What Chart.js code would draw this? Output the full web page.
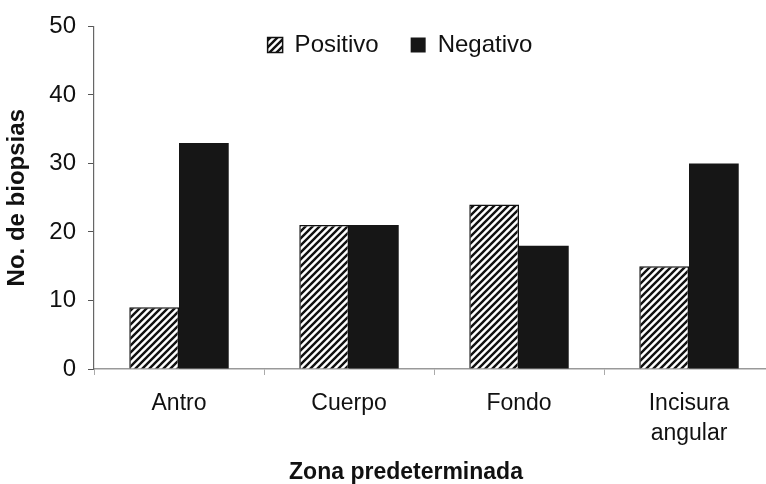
<!DOCTYPE html>
<html>
<head>
<meta charset="utf-8">
<script src="https://cdn.jsdelivr.net/npm/chart.js@4/dist/chart.umd.min.js"></script>
<style>
  html, body { margin: 0; padding: 0; background: #fff; overflow: hidden; }
  .chart-container { position: relative; width: 812px; height: 484px; }
</style>
</head>
<body>
<div class="chart-container">
  <canvas id="chart"></canvas>
</div>
<script>
const categories = ['Antro', 'Cuerpo', 'Fondo', ['Incisura', 'angular']]
const positivo = [9, 21, 24, 15]
const negativo = [33, 21, 18, 30]
const yMin = 0
const yMax = 50
const yStep = 10

const FONT = "'Liberation Sans', Arial, sans-serif"

// diagonal hatch for the "Positivo" bars
function makeHatch(ctx) {
  const size = 7
  const tile = document.createElement('canvas')
  tile.width = size
  tile.height = size
  const t = tile.getContext('2d')
  t.fillStyle = '#fff'
  t.fillRect(0, 0, size, size)
  t.strokeStyle = '#111'
  t.lineWidth = 2.4
  t.beginPath()
  t.moveTo(-1, size + 1); t.lineTo(size + 1, -1)
  t.moveTo(-1, 1); t.lineTo(1, -1)
  t.moveTo(size - 1, size + 1); t.lineTo(size + 1, size - 1)
  t.stroke()
  return ctx.createPattern(tile, 'repeat')
}

// legend sits inside the plot; legend and x title are centred a bit left of the plot centre
const boxPlace = {
  id: 'boxPlace',
  afterLayout(chart) {
    const lg = chart.legend
    if (lg) {
      lg.left = -12
      lg.right = chart.width
      lg.top = 1
      lg.bottom = 70
      lg.width = lg.right - lg.left
      lg.height = lg.bottom - lg.top
    }
    const tb = chart.titleBlock
    if (tb) {
      tb.left = 0
      tb.right = chart.width
    }
  }
}

const canvas = document.getElementById('chart')
const ctx = canvas.getContext('2d')
const hatch = makeHatch(ctx)

const data = {
  labels: categories,
  datasets: [
    {
      label: 'Positivo',
      data: positivo,
      backgroundColor: hatch,
      borderColor: '#111',
      borderWidth: 1.5
    },
    {
      label: 'Negativo',
      data: negativo,
      backgroundColor: '#161616',
      borderColor: '#161616',
      borderWidth: 0
    }
  ]
}

const config = {
  type: 'bar',
  data: data,
  plugins: [boxPlace],
  options: {
    responsive: true,
    maintainAspectRatio: false,
    animation: false,
    events: [],
    layout: {
      padding: { left: 0, right: 38, top: 23, bottom: 0 }
    },
    datasets: {
      bar: {
        categoryPercentage: 0.585,
        barPercentage: 1.0
      }
    },
    plugins: {
      tooltip: { enabled: false },
      legend: {
        position: 'top',
        align: 'center',
        maxHeight: 1,
        labels: {
          color: '#111',
          font: { family: FONT, size: 24 },
          boxWidth: 15,
          boxHeight: 15,
          padding: 32
        }
      },
      title: {
        display: true,
        position: 'bottom',
        text: 'Zona predeterminada',
        color: '#111',
        font: { family: FONT, size: 23, weight: 'bold', lineHeight: 1.0 },
        padding: { top: 0, bottom: 0 }
      }
    },
    scales: {
      x: {
        grid: {
          offset: true,
          drawOnChartArea: false,
          drawTicks: true,
          tickLength: 6,
          color: '#aaa'
        },
        border: { display: true, color: '#999', width: 1.5 },
        ticks: {
          color: '#111',
          padding: 14,
          maxRotation: 0,
          font: { family: FONT, size: 23, lineHeight: 1.3 }
        },
        afterFit(scale) { scale.height = 92 }
      },
      y: {
        min: yMin,
        max: yMax,
        ticks: {
          stepSize: yStep,
          color: '#111',
          padding: 12,
          font: { family: FONT, size: 24 }
        },
        grid: {
          drawOnChartArea: false,
          drawTicks: true,
          tickLength: 6,
          color: '#555'
        },
        border: { display: true, color: '#666', width: 1.2 },
        title: {
          display: true,
          text: 'No. de biopsias',
          color: '#111',
          font: { family: FONT, size: 24, weight: 'bold' },
          padding: { top: 3, bottom: 0 }
        },
        afterFit(scale) { scale.width = 94 }
      }
    }
  }
}

new Chart(canvas, config)
</script>
</body>
</html>
